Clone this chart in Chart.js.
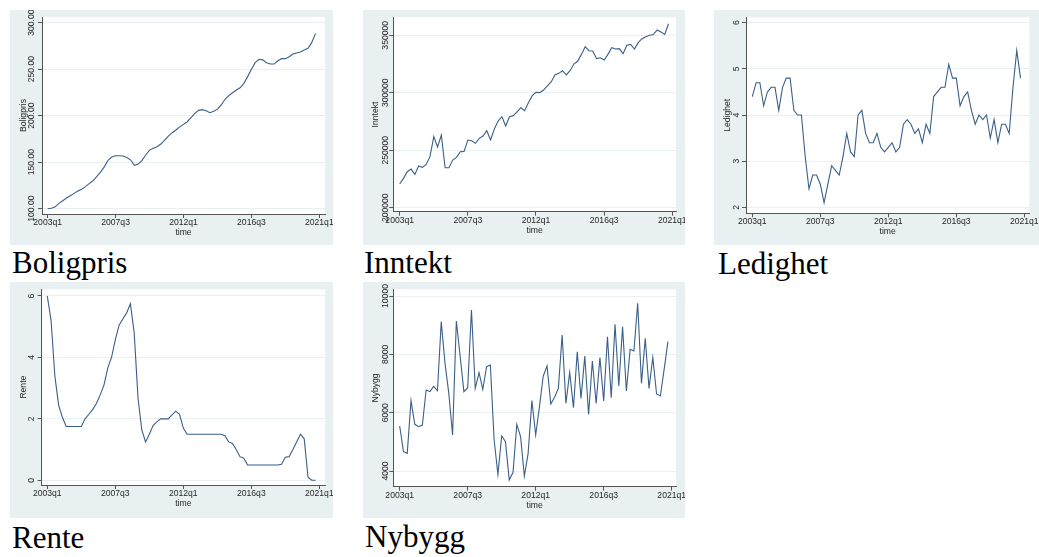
<!DOCTYPE html>
<html lang="no">
<head>
<meta charset="UTF-8">
<title>Boligpris, inntekt, ledighet, rente og nybygg</title>
<script src="https://cdn.jsdelivr.net/npm/chart.js"></script>
<style>
  html, body { margin: 0; background: #fff; }
  body { width: 1039px; height: 557px; position: relative; overflow: hidden; }
  canvas.panel { position: absolute; background: #e9f0f2; }
  .caption { position: absolute; font-family: "Liberation Serif", "Times New Roman", serif;
             font-size: 31px; line-height: 31px; color: #000; white-space: nowrap; }
</style>
</head>
<body>
<canvas class="panel" id="c1" width="323" height="235" style="left:10px;top:10px"></canvas>
<canvas class="panel" id="c2" width="322" height="235" style="left:363px;top:10px"></canvas>
<canvas class="panel" id="c3" width="325" height="235" style="left:714px;top:10px"></canvas>
<canvas class="panel" id="c4" width="323" height="236" style="left:10px;top:282px"></canvas>
<canvas class="panel" id="c5" width="322" height="236" style="left:363px;top:282px"></canvas>

<div class="caption" style="left:12px;top:247px">Boligpris</div>
<div class="caption" style="left:364px;top:247px">Inntekt</div>
<div class="caption" style="left:718px;top:248px">Ledighet</div>
<div class="caption" style="left:12px;top:522px">Rente</div>
<div class="caption" style="left:365px;top:521px">Nybygg</div>

<script>
// quarterly series, 2003q1 - 2020q4
const quarters = [];
for (let yr = 2003; yr <= 2020; yr++) for (let q = 1; q <= 4; q++) quarters.push(yr + 'q' + q);

const xTickPos = [0, 18, 36, 54, 72];
const xTickLabels = ['2003q1', '2007q3', '2012q1', '2016q3', '2021q1'];

const boligpris = [100, 100.5, 102, 105.7, 108.6, 111.5, 114, 116.5, 119, 121,
  123.7, 127, 130, 134.4, 139.4, 145, 152, 155.5, 157, 157,
  156.6, 155, 152.3, 146.6, 148, 152, 157.7, 163, 165, 166.7,
  169.5, 173.8, 178, 181.7, 184.6, 188, 190.7, 193.5, 198, 202.5,
  205.7, 206.5, 205.4, 203.2, 204.7, 207, 211.5, 217.6, 221.5, 224.7,
  227.6, 230, 234.8, 242, 250, 257, 260.6, 260, 257, 255.5,
  255.5, 259, 261.3, 261.3, 263.4, 266.3, 267.4, 268.5, 270.6, 272.4,
  278.8, 288.5];

const inntekt = [220600, 225500, 231300, 233600, 229000, 236300, 235100, 237700, 244400, 261800,
  252800, 263200, 234800, 234800, 241500, 243800, 248700, 249000, 258900, 258300,
  256000, 260300, 262400, 267000, 258900, 268500, 275400, 279200, 271100, 279200,
  280100, 283300, 287000, 284400, 291400, 297500, 300400, 300100, 302400, 305900,
  309400, 315500, 316900, 319200, 315500, 319200, 325000, 327400, 333400, 340100,
  336600, 336300, 329700, 330500, 328500, 333400, 339200, 338100, 338400, 334000,
  341300, 342100, 338100, 343600, 347100, 348800, 350000, 350600, 354600, 352900,
  350800, 360100];

const ledighet = [4.4, 4.7, 4.7, 4.2, 4.5, 4.6, 4.6, 4.1, 4.6, 4.8,
  4.8, 4.1, 4.0, 4.0, 3.1, 2.4, 2.7, 2.7, 2.5, 2.1,
  2.5, 2.9, 2.8, 2.7, 3.1, 3.6, 3.2, 3.1, 4.0, 4.1,
  3.6, 3.4, 3.4, 3.6, 3.3, 3.2, 3.3, 3.4, 3.2, 3.3,
  3.8, 3.9, 3.8, 3.6, 3.7, 3.4, 3.8, 3.6, 4.4, 4.5,
  4.6, 4.6, 5.1, 4.8, 4.8, 4.2, 4.4, 4.5, 4.1, 3.8,
  4.0, 3.9, 4.0, 3.5, 3.9, 3.4, 3.8, 3.8, 3.6, 4.6,
  5.4, 4.8];

const rente = [6.0, 5.2, 3.4, 2.45, 2.05, 1.75, 1.75, 1.75, 1.75, 1.75,
  2.0, 2.15, 2.3, 2.5, 2.78, 3.1, 3.65, 4.0, 4.57, 5.05,
  5.25, 5.45, 5.75, 4.8, 2.7, 1.65, 1.25, 1.5, 1.78, 1.9,
  2.0, 2.0, 2.0, 2.13, 2.25, 2.15, 1.7, 1.5, 1.5, 1.5,
  1.5, 1.5, 1.5, 1.5, 1.5, 1.5, 1.5, 1.45, 1.25, 1.2,
  1.0, 0.77, 0.72, 0.5, 0.5, 0.5, 0.5, 0.5, 0.5, 0.5,
  0.5, 0.5, 0.52, 0.75, 0.77, 1.0, 1.25, 1.5, 1.35, 0.1,
  0, 0];

const nybygg = [5543, 4663, 4606, 6412, 5600, 5520, 5577, 6777, 6720, 6903,
  6754, 9121, 7692, 6663, 5234, 9143, 7943, 6720, 6857, 9520,
  6834, 7372, 6800, 7577, 7634, 5063, 3886, 5200, 5006, 3691,
  3954, 5600, 5177, 3829, 4606, 6412, 5234, 6206, 7257, 7600,
  6297, 6526, 6834, 8663, 6320, 7383, 6172, 8091, 6491, 7943,
  5943, 7772, 6320, 7886, 6400, 8606, 6514, 9029, 6914, 8949,
  6743, 8172, 8114, 9749, 7006, 8549, 6834, 7897, 6640, 6572,
  7486, 8434];

const boligprisTicks = [100, 150, 200, 250, 300];
const inntektTicks = [200000, 250000, 300000, 350000];
const ledighetTicks = [2, 3, 4, 5, 6];
const renteTicks = [0, 2, 4, 6];
const nybyggTicks = [4000, 6000, 8000, 10000];

const LINE = '#3a5f88';
const AXIS = '#555';
const GRID = '#e9f0f2';
const TEXT = '#262626';
const SMALL_FONT = '8.6px "Liberation Sans", Arial, sans-serif';

// white plot region, plus stata-like rotated y labels and axis titles
const stataAxes = {
  id: 'stataAxes',
  beforeDraw(chart) {
    const a = chart.chartArea, ctx = chart.ctx;
    ctx.save();
    ctx.fillStyle = '#fff';
    ctx.fillRect(a.left, a.top, a.right - a.left, a.bottom - a.top);
    ctx.restore();
  },
  afterDraw(chart) {
    const o = chart.options.plugins.stataAxes;
    const {ctx, chartArea: a} = chart;
    const x = chart.scales.x, y = chart.scales.y;
    ctx.save();
    ctx.fillStyle = TEXT;
    ctx.font = SMALL_FONT;
    ctx.textAlign = 'center';
    ctx.textBaseline = 'middle';
    xTickPos.forEach((v, i) => ctx.fillText(xTickLabels[i], x.getPixelForValue(v), a.bottom + 8.5));
    ctx.fillText('time', (a.left + a.right) / 2, a.bottom + 18.5);
    o.ticks.forEach(v => {
      ctx.save();
      ctx.translate(a.left - o.labelGap, y.getPixelForValue(v));
      ctx.rotate(-Math.PI / 2);
      ctx.fillText(v.toFixed(o.digits), 0, 0);
      ctx.restore();
    });
    ctx.translate(a.left - 18, (a.top + a.bottom) / 2);
    ctx.rotate(-Math.PI / 2);
    ctx.fillText(o.title, 0, 0);
    ctx.restore();
  }
};

function makeChart(p) {
  const canvas = document.getElementById(p.id);
  const w = canvas.width, h = canvas.height;
  new Chart(canvas.getContext('2d'), {
    type: 'line',
    data: {
      labels: quarters,
      datasets: [{
        data: p.values.map((v, i) => ({x: i, y: v})),
        borderColor: LINE,
        borderWidth: 1.1,
        pointRadius: 0,
        tension: 0,
        fill: false
      }]
    },
    options: {
      responsive: false,
      animation: false,
      layout: { padding: { left: 0, top: p.area.top, right: w - p.area.right, bottom: 0 } },
      plugins: {
        legend: { display: false },
        tooltip: { enabled: false },
        stataAxes: { ticks: p.ticks, digits: p.digits, title: p.title, labelGap: p.labelGap }
      },
      scales: {
        x: {
          type: 'linear', min: p.xRange[0], max: p.xRange[1],
          afterBuildTicks: s => { s.ticks = xTickPos.map(v => ({value: v})); },
          afterFit: s => { s.height = h - p.area.bottom; },
          ticks: { display: false },
          grid: { drawOnChartArea: false, drawTicks: true, tickLength: 4, color: AXIS, tickColor: AXIS },
          border: { display: true, color: AXIS, width: 1 }
        },
        y: {
          min: p.yRange[0], max: p.yRange[1],
          afterBuildTicks: s => { s.ticks = p.ticks.map(v => ({value: v})); },
          afterFit: s => { s.width = p.area.left; },
          ticks: { display: false },
          grid: { color: GRID, lineWidth: 1, drawTicks: true, tickLength: 4, tickColor: AXIS },
          border: { display: true, color: AXIS, width: 1 }
        }
      }
    },
    plugins: [stataAxes]
  });
}

makeChart({ id: 'c1', values: boligpris, ticks: boligprisTicks, digits: 2, title: 'Boligpris',
  xRange: [-1.5, 73.5], yRange: [94.3, 306.1], area: {left: 32, top: 7, right: 315, bottom: 204}, labelGap: 10 });
makeChart({ id: 'c2', values: inntekt, ticks: inntektTicks, digits: 0, title: 'Inntekt',
  xRange: [-1.69, 72.98], yRange: [196519, 365666], area: {left: 30.3, top: 7.3, right: 313, bottom: 201.7}, labelGap: 7.5 });
makeChart({ id: 'c3', values: ledighet, ticks: ledighetTicks, digits: 0, title: 'Ledighet',
  xRange: [-1.67, 73.32], yRange: [1.87, 6.117], area: {left: 32, top: 7.3, right: 315.3, bottom: 203.3}, labelGap: 9.5 });
makeChart({ id: 'c4', values: rente, ticks: renteTicks, digits: 0, title: 'Rente',
  xRange: [-1.48, 73.5], yRange: [-0.153, 6.218], area: {left: 31.7, top: 7.3, right: 315, bottom: 203}, labelGap: 10.5 });
makeChart({ id: 'c5', values: nybygg, ticks: nybyggTicks, digits: 0, title: 'Nybygg',
  xRange: [-1.69, 73.14], yRange: [3462, 10230], area: {left: 30.3, top: 7.3, right: 313, bottom: 204.7}, labelGap: 7.5 });
</script>
</body>
</html>
